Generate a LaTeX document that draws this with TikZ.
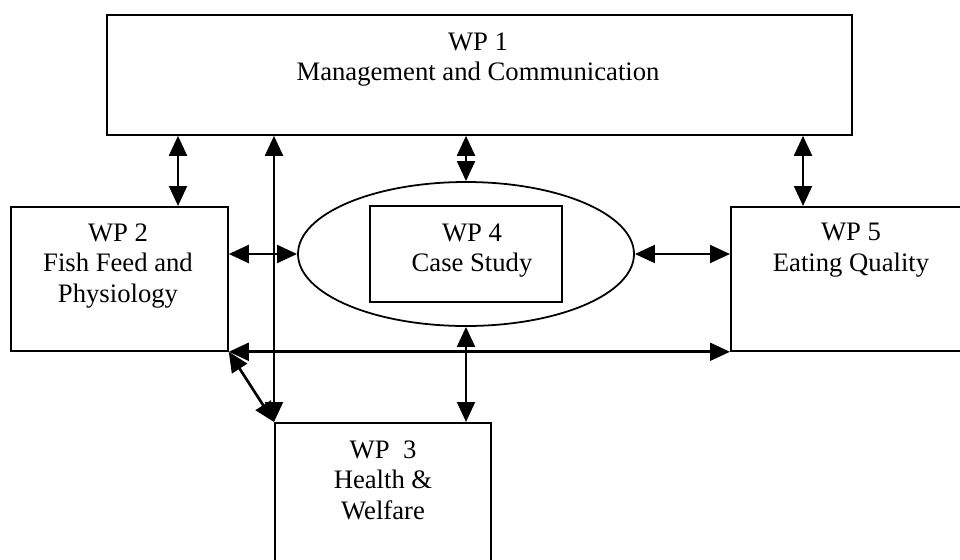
\documentclass[tikz,border=0pt]{standalone}
\usepackage{fontspec}
\setmainfont{Liberation Serif}
\usetikzlibrary{arrows.meta}
\usetikzlibrary{shapes.geometric}

\begin{document}
\begin{tikzpicture}[x=0.45pt,y=-0.45pt,
  box/.style={draw, line width=0.8pt, inner sep=0pt, anchor=north west},
  txt/.style={align=center, inner sep=0pt, anchor=north, font=\fontsize{12pt}{13.8pt}\selectfont},
  dbl/.style={line width=1.2pt, {Triangle[length=9pt,width=8pt]}-{Triangle[length=9pt,width=8pt]}}]
\useasboundingbox (0,0) rectangle (960,559);
\clip (0,0) rectangle (960,559);
% work packages
\node[box, minimum width=335.25pt, minimum height=54pt] (wp1) at (106,14) {};
\node[box, minimum width=97.65pt, minimum height=64.8pt] (wp2) at (10,206) {};
\node[box, minimum width=97.2pt, minimum height=68.85pt] (wp3) at (274,422) {};
\node[box, minimum width=108.9pt, minimum height=64.8pt] (wp5) at (730,206) {};
\node[draw, ellipse, line width=0.8pt, inner sep=0pt, minimum width=151.2pt, minimum height=64.8pt] (wp4) at (466,254) {};
\node[draw, line width=0.8pt, inner sep=0pt, minimum width=86.4pt, minimum height=43.2pt] (wp4box) at (466,254) {};
% labels
\node[txt] (t1) at (478,32) {WP 1\\Management and Communication};
\node[txt] (t2) at (118,223) {WP 2\\Fish Feed and\\Physiology};
\node[txt] (t3) at (383,440) {WP\ \ 3\\Health \&\\Welfare};
\node[txt] (t4) at (472,223) {WP 4\\Case Study};
\node[txt] (t5) at (851,223) {WP 5\\Eating Quality};
% links
\coordinate (xa) at (178,0);
\coordinate (xd) at (803,0);
\draw[dbl] (wp1.south -| xa) -- (wp2.north -| xa);
\draw[dbl] (wp1.south -| wp3.north west) -- (wp3.north west);
\draw[dbl] (wp1.south -| wp4.north) -- (wp4.north);
\draw[dbl] (wp1.south -| xd) -- (wp5.north -| xd);
\draw[dbl] (wp2.east |- wp4.west) -- (wp4.west);
\draw[dbl] (wp4.east) -- (wp5.west |- wp4.east);
\draw[dbl] (wp2.south east) -- (wp5.south west);
\draw[dbl] (wp2.south east) -- (wp3.north west);
\draw[dbl] (wp4.south) -- (wp3.north -| wp4.south);
\end{tikzpicture}
\end{document}
